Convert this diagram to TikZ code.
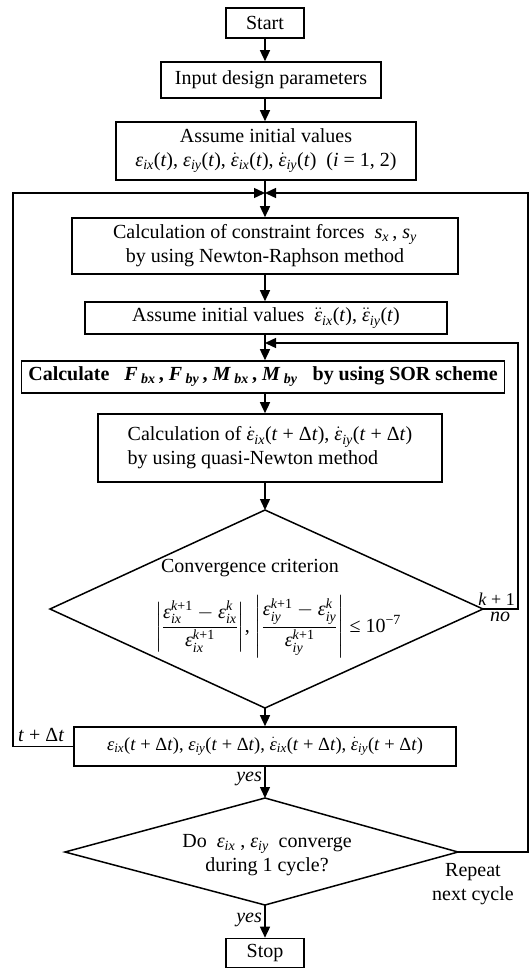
\documentclass[tikz,border=0pt]{standalone}
\usepackage{amsmath}
\usepackage{fontspec}
\setmainfont{Liberation Serif}
\usetikzlibrary{arrows.meta}
\newcommand{\E}{\text{\textit{ε}}}
\newcommand{\ti}[1]{\text{\textit{#1}}}
\newcommand{\eps}[1]{\textit{ε}\textsubscript{\textit{#1}}}
\newcommand{\epsd}[1]{$\dot{\E}$\textsubscript{\textit{#1}}}
\newcommand{\epsdd}[1]{$\ddot{\E}$\textsubscript{\textit{#1}}}
\newcommand{\bsym}[2]{\textbf{\textit{#1}}\,\textsubscript{\textbf{\textit{#2}}}}
\newcommand{\tdt}{(\textit{t} + Δ\textit{t})}
\begin{document}
\begin{tikzpicture}[x=1pt,y=-1pt,
  box/.style={draw, line width=1.6pt, inner sep=2pt, font=\fontsize{20}{24}\selectfont, align=center},
  arr/.style={line width=1.4pt, -{Triangle[length=11pt,width=10pt]}},
  ln/.style={line width=1.5pt},
  lbl/.style={font=\fontsize{20}{24}\selectfont, inner sep=1pt}]
\useasboundingbox (0,0) rectangle (532,969);

% boxes
\node[box, minimum width=78, minimum height=30] (start) at (265,23) {Start};
\node[box, minimum width=220, minimum height=36] (input) at (271,80) {Input design parameters};
\node[box, minimum width=300, minimum height=58] (assumeA) at (266,151)
  {Assume initial values\\ \eps{ix}(\textit{t}), \eps{iy}(\textit{t}), \epsd{ix}(\textit{t}), \epsd{iy}(\textit{t})\ \ (\textit{i} = 1, 2)};
\node[box, minimum width=386, minimum height=56] (constr) at (265,246)
  {Calculation of constraint forces \ \textit{s}\textsubscript{\textit{x}}\,, \textit{s}\textsubscript{\textit{y}}\\by using Newton-Raphson method};
\node[box, minimum width=362, minimum height=32] (assumeB) at (266,318)
  {Assume initial values \ \epsdd{ix}(\textit{t}), \epsdd{iy}(\textit{t})};
\node[box, minimum width=483, minimum height=32] (sor) at (263,377)
  {\textbf{Calculate} \ \ \bsym{F}{bx}\,\textbf{,} \bsym{F}{by}\,\textbf{,} \bsym{M}{bx}\,\textbf{,} \bsym{M}{by} \ \ \textbf{by using SOR scheme}};
\node[box, minimum width=344, minimum height=68, align=left] (calcB) at (270,448)
  {Calculation of \epsd{ix}\tdt, \epsd{iy}\tdt\\by using quasi-Newton method};
\node[box, minimum width=382, minimum height=39, font=\fontsize{18.5}{22}\selectfont] (result) at (265,746.5)
  {\eps{ix}\tdt, \eps{iy}\tdt, \epsd{ix}\tdt, \epsd{iy}\tdt};
\node[box, minimum width=78, minimum height=29] (stop) at (265,953) {Stop};

% diamonds
\coordinate (d1t) at (265,510);
\coordinate (d1r) at (483,609);
\coordinate (d1b) at (265,708);
\coordinate (d1l) at (50,609);
\draw[ln] (d1t) -- (d1r) -- (d1b) -- (d1l) -- cycle;
\node[lbl] (crit) at (250,568) {Convergence criterion};
\node[lbl] (form) at (278,627)
  {$\left|\dfrac{\E^{\text{\textit{k}+1}}_{\ti{ix}}-\E^{\ti{k}}_{\ti{ix}}}{\E^{\text{\textit{k}+1}}_{\ti{ix}}}\right|$,
   $\left|\dfrac{\E^{\text{\textit{k}+1}}_{\ti{iy}}-\E^{\ti{k}}_{\ti{iy}}}{\E^{\text{\textit{k}+1}}_{\ti{iy}}}\right|$ ≤ 10\textsuperscript{−7}};

\coordinate (d2t) at (265,798);
\coordinate (d2r) at (458,852);
\coordinate (d2b) at (265,905);
\coordinate (d2l) at (65,852);
\draw[ln] (d2t) -- (d2r) -- (d2b) -- (d2l) -- cycle;
\node[lbl, align=center] (ques) at (267,855)
  {Do \ \eps{ix} , \eps{iy} \ converge\\during 1 cycle?};

% main flow
\coordinate (j1) at (265,193);
\coordinate (j2) at (265,343);
\draw[arr] (start.south) -- (start.south |- input.north);
\draw[arr] (start.south |- input.south) -- (start.south |- assumeA.north);
\draw[arr] (start.south |- assumeA.south) -- (start.south |- constr.north);
\draw[arr] (start.south |- constr.south) -- (start.south |- assumeB.north);
\draw[arr] (start.south |- assumeB.south) -- (start.south |- sor.north);
\draw[arr] (start.south |- sor.south) -- (start.south |- calcB.north);
\draw[arr] (d1t |- calcB.south) -- (d1t);
\draw[arr] (d1b) -- (d1b |- result.north);
\draw[arr] (result.south) -- (d2t);
\draw[arr] (d2b) -- (d2b |- stop.north);

% loops
\coordinate (ll) at (13,193);
\coordinate (rr) at (528,193);
\coordinate (ir) at (518,343);
\draw[arr] (result.west) -| (ll) -- (j1);
\draw[arr] (d2r) -| (rr) -- (j1);
\draw[arr] (d1r) -| (ir) -- (j2);

% labels
\node[lbl, anchor=south east, font=\fontsize{18}{22}\selectfont] (kp) at (516,607) {\textit{k} + 1};
\node[lbl, anchor=north, font=\fontsize{20}{24}\selectfont\itshape] (no) at (500,611) {no};
\node[lbl, anchor=south west] (tdtl) at (17,743) {\textit{t} + Δ\textit{t}};
\node[lbl, anchor=east, font=\fontsize{20}{24}\selectfont\itshape] (yes1) at (263,779) {yes};
\node[lbl, anchor=east, font=\fontsize{20}{24}\selectfont\itshape] (yes2) at (263,920) {yes};
\node[lbl, align=center] (rep) at (473,884) {Repeat\\next cycle};
\end{tikzpicture}
\end{document}
